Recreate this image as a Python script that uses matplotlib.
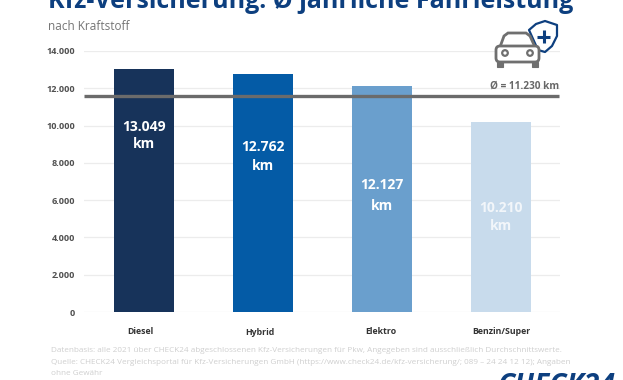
import matplotlib
matplotlib.use("Agg")
import matplotlib.pyplot as plt
from matplotlib.patches import FancyBboxPatch, Circle, Polygon, Rectangle
from matplotlib.transforms import ScaledTranslation

categories = ["Diesel", "Hybrid", "Elektro", "Benzin/Super"]
values = [13049, 12762, 12127, 10210]
value_labels = ["13.049\nkm", "12.762\nkm", "12.127\nkm", "10.210\nkm"]
label_heights = [9468, 8342, 6248, 5096]
label_spacing = [1.32, 1.47, 1.63, 1.4]
label_colors = ["#ffffff", "#ffffff", "#ffffff", "#f2f6fa"]
colors = ["#17335a", "#045ba6", "#6a9fcd", "#c8dbec"]
yticks = [0, 2000, 4000, 6000, 8000, 10000, 12000, 14000]
ytick_labels = ["0", "2.000", "4.000", "6.000", "8.000", "10.000", "12.000", "14.000"]
avg_line = 11590
avg_label = "Ø = 11.230 km"

W, H = 623, 380
plt.rcParams["font.family"] = ["Open Sans", "DejaVu Sans"]
fig = plt.figure(figsize=(W / 100, H / 100), dpi=100, facecolor="white")
ax = fig.add_axes([84 / W, (H - 312) / H, (560 - 84) / W, (312 - 51) / H])
ax.set_xlim(-0.504, 3.496)
ax.set_ylim(0, 14000)
for s in ax.spines.values():
    s.set_visible(False)
ax.set_axisbelow(True)
ax.grid(axis="y", color="#ececec", lw=0.9)
ax.bar(range(4), values, width=0.5, color=colors, zorder=2)
ax.plot([-0.504, 3.49], [avg_line, avg_line], color="#6b6b6b", lw=2.4, zorder=3, solid_capstyle="butt")
ax.set_yticks(yticks, ytick_labels, fontsize=6.6, fontweight="bold", color="#505050")
ax.tick_params(axis="y", length=0, pad=6.5)
ax.set_xticks(range(4), categories, fontsize=6.3, fontweight="bold", color="#333333")
ax.tick_params(axis="x", length=0, pad=11)
for lab, dx, dy in zip(ax.get_xticklabels(), [-4, -3, -1.4, 0], [0, -1, 0, 0]):
    lab.set_transform(lab.get_transform() + ScaledTranslation(dx / 100, dy / 100, fig.dpi_scale_trans))
for i, (txt, h) in enumerate(zip(value_labels, label_heights)):
    ax.text(i, h, txt, ha="center", va="center", color=label_colors[i], fontsize=10,
            fontweight="bold", linespacing=label_spacing[i], zorder=4)
ax.text(3.49, 11800, avg_label, ha="right", va="bottom", fontsize=7.2, fontweight="bold", color="#666666")

ov = fig.add_axes([0, 0, 1, 1], facecolor="none")
ov.set_xlim(0, W)
ov.set_ylim(H, 0)
ov.axis("off")
ov.text(48, 8, "Kfz-Versicherung: Ø jährliche Fahrleistung", fontsize=18, fontweight="bold",
        color="#0d3f7f", va="baseline", ha="left")
ov.text(48, 29.5, "nach Kraftstoff", fontsize=8.5, color="#757575", va="baseline", ha="left")
foot = ("Datenbasis: alle 2021 über CHECK24 abgeschlossenen Kfz-Versicherungen für Pkw, Angegeben sind ausschließlich Durchschnittswerte.\n"
        "Quelle: CHECK24 Vergleichsportal für Kfz-Versicherungen GmbH (https://www.check24.de/kfz-versicherung/; 089 – 24 24 12 12); Angaben\n"
        "ohne Gewähr")
ov.text(51, 375, foot, fontsize=5.85, color="#cfcfcf", va="baseline", ha="left", linespacing=1.85)
ov.text(497, 394, "CHECK24", fontsize=20.3, fontweight="bold", fontstyle="italic", color="#0d3f7f",
        va="baseline", ha="left", clip_on=True)

# shield + car icon
shield = Polygon([(529, 30), (536, 24), (545, 21), (557, 25), (557, 36), (552, 46), (545, 52), (538, 50)],
                 closed=True, fc="white", ec="#0d3f7f", lw=1.6, joinstyle="round")
ov.add_patch(shield)
ov.plot([543.5, 543.5], [30, 43], color="#0d3f7f", lw=2.2, solid_capstyle="butt")
ov.plot([537, 550], [36.5, 36.5], color="#0d3f7f", lw=2.2, solid_capstyle="butt")
g = "#6f6f6f"
ov.add_patch(Polygon([(500, 47), (504, 36), (508, 33), (526, 33), (530, 36), (535, 47)],
                     closed=True, fc="white", ec=g, lw=2))
ov.add_patch(FancyBboxPatch((496, 46), 43, 16, boxstyle="round,pad=0,rounding_size=4", fc="white", ec=g, lw=2))
ov.add_patch(Rectangle((497, 62), 6, 4.5, fc=g, ec=g, lw=0.8))
ov.add_patch(Rectangle((532, 62), 6, 4.5, fc=g, ec=g, lw=0.8))
ov.add_patch(Circle((505, 53), 2.8, fc="white", ec=g, lw=1.6))
ov.add_patch(Circle((530, 53), 2.8, fc="white", ec=g, lw=1.6))

fig.savefig("out.png", dpi=100, facecolor="white")
